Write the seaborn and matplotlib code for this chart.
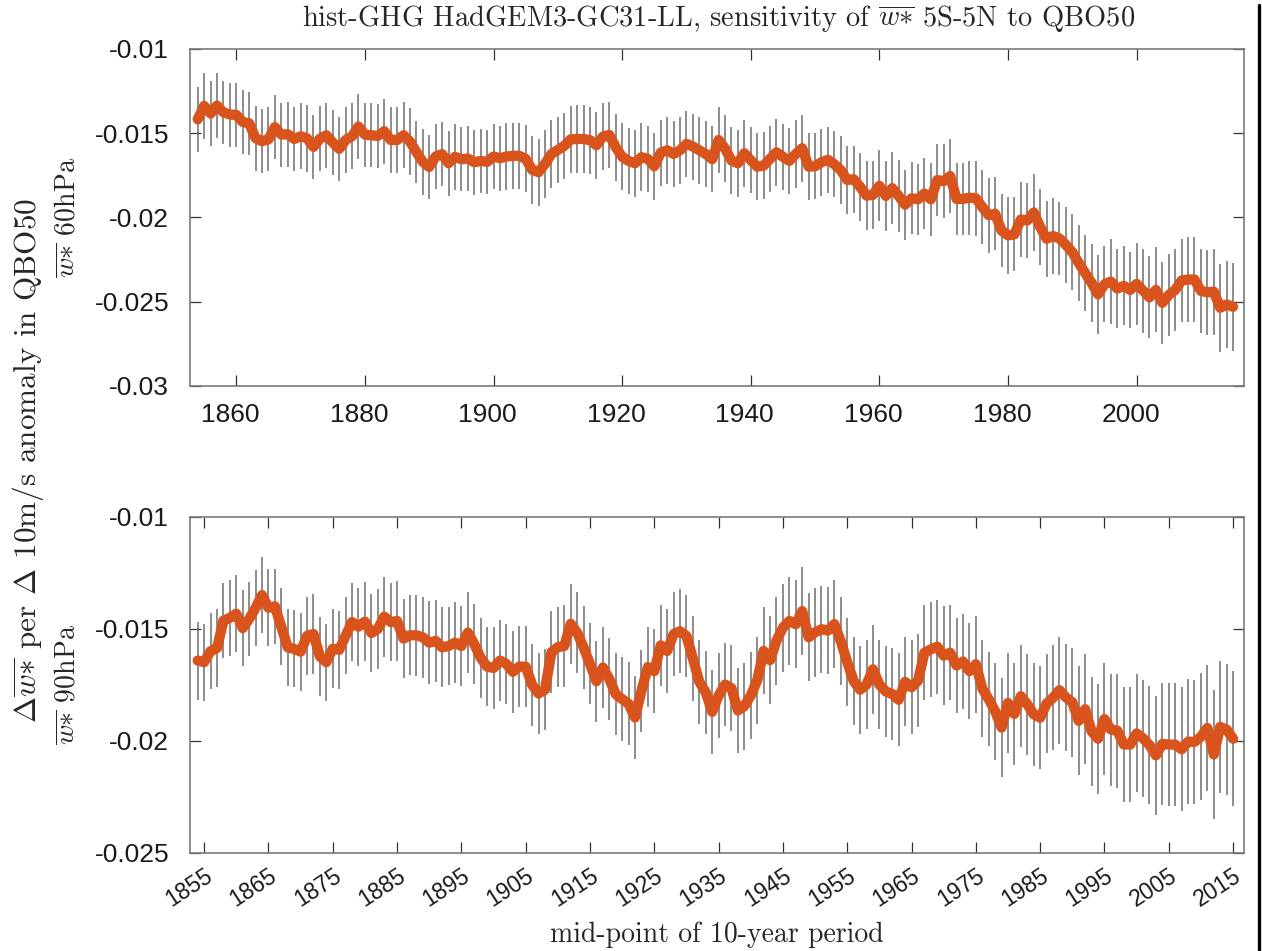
import numpy as np
import pandas as pd
import matplotlib
matplotlib.use("Agg")
import matplotlib.pyplot as plt
import seaborn as sns
from matplotlib.lines import Line2D
from matplotlib.transforms import ScaledTranslation

# ---------------- data ----------------
years = list(range(1854, 2016))

top_vals = [
    -0.01417, -0.01338, -0.01383, -0.01336, -0.01376, -0.01389,                      # 1854-1859
    -0.01391, -0.01433, -0.01441, -0.01530, -0.01547, -0.01536, -0.01464, -0.01508, -0.01506, -0.01534,  # 1860s
    -0.01518, -0.01530, -0.01581, -0.01532, -0.01512, -0.01555, -0.01593, -0.01540, -0.01518, -0.01460,  # 1870s
    -0.01508, -0.01512, -0.01516, -0.01488, -0.01540, -0.01540, -0.01512, -0.01549, -0.01611, -0.01670,  # 1880s
    -0.01700, -0.01638, -0.01624, -0.01678, -0.01640, -0.01654, -0.01650, -0.01672, -0.01664, -0.01670,  # 1890s
    -0.01638, -0.01648, -0.01638, -0.01634, -0.01634, -0.01652, -0.01717, -0.01731, -0.01682, -0.01623,  # 1900s
    -0.01599, -0.01575, -0.01536, -0.01534, -0.01534, -0.01541, -0.01571, -0.01520, -0.01510, -0.01583,  # 1910s
    -0.01640, -0.01664, -0.01678, -0.01642, -0.01652, -0.01696, -0.01615, -0.01601, -0.01623, -0.01601,  # 1920s
    -0.01563, -0.01579, -0.01601, -0.01623, -0.01654, -0.01540, -0.01591, -0.01662, -0.01678, -0.01619,  # 1930s
    -0.01660, -0.01698, -0.01692, -0.01652, -0.01613, -0.01640, -0.01664, -0.01623, -0.01589, -0.01698,  # 1940s
    -0.01696, -0.01672, -0.01658, -0.01684, -0.01719, -0.01777, -0.01773, -0.01818, -0.01870, -0.01866,  # 1950s
    -0.01812, -0.01872, -0.01826, -0.01872, -0.01924, -0.01886, -0.01892, -0.01858, -0.01892, -0.01778,  # 1960s
    -0.01784, -0.01754, -0.01890, -0.01890, -0.01882, -0.01886, -0.01938, -0.01986, -0.01978, -0.02078,  # 1970s
    -0.02106, -0.02100, -0.02012, -0.02018, -0.01970, -0.02056, -0.02126, -0.02110, -0.02124, -0.02162,  # 1980s
    -0.02206, -0.02270, -0.02330, -0.02388, -0.02456, -0.02396, -0.02380, -0.02422, -0.02406, -0.02430,  # 1990s
    -0.02394, -0.02434, -0.02474, -0.02430, -0.02506, -0.02460, -0.02430, -0.02374, -0.02368, -0.02368,  # 2000s
    -0.02436, -0.02444, -0.02440, -0.02536, -0.02516, -0.02530,                      # 2010-2015
]

top_err = [
    0.00192, 0.00198, 0.00191, 0.00193, 0.00188, 0.00190,
    0.00192, 0.00190, 0.00188, 0.00192, 0.00190, 0.00190, 0.00190, 0.00190, 0.00192, 0.00188,
    0.00196, 0.00198, 0.00191, 0.00195, 0.00192, 0.00191, 0.00188, 0.00194, 0.00196, 0.00193,
    0.00190, 0.00190, 0.00191, 0.00194, 0.00194, 0.00194, 0.00195, 0.00198, 0.00186, 0.00195,
    0.00191, 0.00193, 0.00192, 0.00194, 0.00195, 0.00191, 0.00194, 0.00193, 0.00192, 0.00190,
    0.00194, 0.00192, 0.00198, 0.00195, 0.00195, 0.00198, 0.00200, 0.00198, 0.00200, 0.00200,
    0.00198, 0.00198, 0.00200, 0.00200, 0.00200, 0.00198, 0.00198, 0.00198, 0.00198, 0.00198,
    0.00198, 0.00198, 0.00200, 0.00200, 0.00196, 0.00198, 0.00196, 0.00198, 0.00196, 0.00198,
    0.00196, 0.00196, 0.00198, 0.00197, 0.00196, 0.00196, 0.00198, 0.00200, 0.00198, 0.00198,
    0.00196, 0.00200, 0.00200, 0.00197, 0.00200, 0.00196, 0.00198, 0.00200, 0.00198, 0.00200,
    0.00196, 0.00198, 0.00198, 0.00197, 0.00200, 0.00200, 0.00200, 0.00203, 0.00206, 0.00204,
    0.00210, 0.00210, 0.00214, 0.00212, 0.00208, 0.00214, 0.00210, 0.00212, 0.00216, 0.00216,
    0.00220, 0.00220, 0.00216, 0.00214, 0.00220, 0.00222, 0.00218, 0.00222, 0.00216, 0.00216,
    0.00228, 0.00220, 0.00220, 0.00220, 0.00226, 0.00224, 0.00226, 0.00228, 0.00216, 0.00224,
    0.00224, 0.00226, 0.00226, 0.00232, 0.00234, 0.00224, 0.00250, 0.00234, 0.00234, 0.00228,
    0.00242, 0.00250, 0.00244, 0.00252, 0.00242, 0.00246, 0.00244, 0.00246, 0.00252, 0.00252,
    0.00252, 0.00252, 0.00256, 0.00260, 0.00258, 0.00262,
]

bot_vals = [
    -0.01641, -0.01648, -0.01599, -0.01585, -0.01463, -0.01450,
    -0.01432, -0.01496, -0.01455, -0.01406, -0.01349, -0.01405, -0.01399, -0.01490, -0.01582, -0.01589,
    -0.01601, -0.01531, -0.01522, -0.01623, -0.01648, -0.01588, -0.01593, -0.01530, -0.01469, -0.01490,
    -0.01467, -0.01518, -0.01500, -0.01445, -0.01469, -0.01464, -0.01543, -0.01528, -0.01528, -0.01537,
    -0.01561, -0.01553, -0.01582, -0.01576, -0.01561, -0.01576, -0.01516, -0.01567, -0.01629, -0.01668,
    -0.01674, -0.01641, -0.01656, -0.01691, -0.01668, -0.01668, -0.01749, -0.01788, -0.01771, -0.01604,
    -0.01581, -0.01576, -0.01477, -0.01516, -0.01582, -0.01656, -0.01733, -0.01672, -0.01723, -0.01791,
    -0.01813, -0.01834, -0.01895, -0.01776, -0.01670, -0.01688, -0.01573, -0.01598, -0.01523, -0.01510,
    -0.01531, -0.01632, -0.01736, -0.01783, -0.01870, -0.01797, -0.01748, -0.01764, -0.01864, -0.01844,
    -0.01797, -0.01730, -0.01598, -0.01639, -0.01552, -0.01494, -0.01464, -0.01479, -0.01420, -0.01537,
    -0.01515, -0.01501, -0.01507, -0.01478, -0.01555, -0.01648, -0.01732, -0.01771, -0.01748, -0.01680,
    -0.01748, -0.01779, -0.01790, -0.01816, -0.01736, -0.01760, -0.01731, -0.01606, -0.01591, -0.01579,
    -0.01619, -0.01606, -0.01663, -0.01645, -0.01688, -0.01657, -0.01766, -0.01813, -0.01867, -0.01940,
    -0.01830, -0.01879, -0.01800, -0.01836, -0.01881, -0.01896, -0.01833, -0.01807, -0.01773, -0.01805,
    -0.01827, -0.01910, -0.01858, -0.01957, -0.01990, -0.01902, -0.01949, -0.01954, -0.02015, -0.02016,
    -0.01966, -0.01988, -0.02018, -0.02064, -0.02013, -0.02016, -0.02016, -0.02037, -0.02003, -0.02004,
    -0.01981, -0.01942, -0.02060, -0.01937, -0.01949, -0.01990,
]

bot_err = [
    0.00174, 0.00172, 0.00171, 0.00173, 0.00168, 0.00169,
    0.00171, 0.00168, 0.00167, 0.00168, 0.00169, 0.00171, 0.00169, 0.00171, 0.00171, 0.00172,
    0.00174, 0.00174, 0.00177, 0.00176, 0.00172, 0.00176, 0.00174, 0.00171, 0.00176, 0.00175,
    0.00176, 0.00176, 0.00178, 0.00178, 0.00174, 0.00178, 0.00176, 0.00178, 0.00180, 0.00180,
    0.00186, 0.00182, 0.00178, 0.00176, 0.00180, 0.00180, 0.00181, 0.00180, 0.00180, 0.00176,
    0.00182, 0.00182, 0.00180, 0.00182, 0.00182, 0.00181, 0.00182, 0.00182, 0.00182, 0.00183,
    0.00180, 0.00182, 0.00180, 0.00182, 0.00186, 0.00181, 0.00180, 0.00182, 0.00183, 0.00183,
    0.00186, 0.00185, 0.00186, 0.00182, 0.00180, 0.00187, 0.00182, 0.00187, 0.00188, 0.00187,
    0.00183, 0.00191, 0.00186, 0.00186, 0.00189, 0.00188, 0.00187, 0.00191, 0.00191, 0.00194,
    0.00194, 0.00195, 0.00194, 0.00197, 0.00196, 0.00197, 0.00197, 0.00197, 0.00198, 0.00196,
    0.00199, 0.00195, 0.00194, 0.00197, 0.00197, 0.00197, 0.00197, 0.00197, 0.00199, 0.00200,
    0.00199, 0.00203, 0.00205, 0.00207, 0.00199, 0.00209, 0.00207, 0.00211, 0.00211, 0.00209,
    0.00221, 0.00211, 0.00211, 0.00214, 0.00216, 0.00216, 0.00216, 0.00209, 0.00216, 0.00221,
    0.00224, 0.00228, 0.00228, 0.00225, 0.00231, 0.00229, 0.00222, 0.00235, 0.00239, 0.00240,
    0.00243, 0.00243, 0.00245, 0.00244, 0.00246, 0.00248, 0.00250, 0.00255, 0.00257, 0.00255,
    0.00263, 0.00260, 0.00265, 0.00267, 0.00272, 0.00274, 0.00274, 0.00276, 0.00278, 0.00276,
    0.00284, 0.00280, 0.00287, 0.00295, 0.00291, 0.00301,
]

top_xticks = [1860, 1880, 1900, 1920, 1940, 1960, 1980, 2000]
bot_xticks = [1855, 1865, 1875, 1885, 1895, 1905, 1915, 1925, 1935,
              1945, 1955, 1965, 1975, 1985, 1995, 2005, 2015]
top_yticks = [-0.03, -0.025, -0.02, -0.015, -0.01]
top_ylabels = ["-0.03", "-0.025", "-0.02", "-0.015", "-0.01"]
bot_yticks = [-0.025, -0.02, -0.015, -0.01]
bot_ylabels = ["-0.025", "-0.02", "-0.015", "-0.01"]

title = r"hist-GHG HadGEM3-GC31-LL, sensitivity of $\overline{w{\ast}}$ 5S-5N to QBO50"
ylabel_main = r"$\Delta\overline{w{\ast}}$ per $\Delta$ 10m/s anomaly in QBO50"
ylabel_top = r"$\overline{w{\ast}}$ 60hPa"
ylabel_bot = r"$\overline{w{\ast}}$ 90hPa"
xlabel = "mid-point of 10-year period"

# ---------------- style ----------------
sns.set_theme(style="ticks")
plt.rcParams["font.family"] = ["Liberation Sans", "DejaVu Sans"]
plt.rcParams["mathtext.fontset"] = "cm"
plt.rcParams["axes.unicode_minus"] = False

ORANGE = "#D9531C"
BARC = "#6e6e6e"
SERIF = "cmr10"

W, H = 1262, 951
fig = plt.figure(figsize=(W / 100, H / 100), dpi=100)
ax1 = fig.add_axes([190 / W, 1 - 386 / H, 1054 / W, 337 / H])
ax2 = fig.add_axes([190 / W, 1 - 853 / H, 1054 / W, 336 / H])

df_top = pd.DataFrame({"year": years, "val": top_vals, "err": top_err})
df_bot = pd.DataFrame({"year": years, "val": bot_vals, "err": bot_err})

for ax, df in ((ax1, df_top), (ax2, df_bot)):
    ax.vlines(df["year"], df["val"] - df["err"], df["val"] + df["err"],
              color=BARC, linewidth=1.1, zorder=2)
    sns.lineplot(data=df, x="year", y="val", ax=ax, color=ORANGE,
                 linewidth=7.4, zorder=3, solid_capstyle="round",
                 solid_joinstyle="round")
    ax.set_xlim(1852.8, 2016.7)
    for sp in ax.spines.values():
        sp.set_visible(True)
        sp.set_color("#7a7a7a")
        sp.set_linewidth(1.2)
    ax.tick_params(direction="in", length=8, width=0.9, color="#333333",
                   top=True, right=True, labelcolor="#1a1a1a")
    ax.set_xlabel("")
    ax.grid(False)

ax1.set_ylim(-0.03, -0.01)
ax1.set_yticks(top_yticks)
ax1.set_yticklabels(top_ylabels, fontsize=19)
ax1.set_xticks(top_xticks)
ax1.set_xticklabels([str(t) for t in top_xticks], fontsize=19)
ax1.tick_params(axis="x", pad=12)
ax1.tick_params(axis="y", pad=15)
shift = ScaledTranslation(-6 / 100, 0, fig.dpi_scale_trans)
for lab in ax1.get_xticklabels():
    lab.set_transform(lab.get_transform() + shift)

ax2.set_ylim(-0.025, -0.01)
ax2.set_yticks(bot_yticks)
ax2.set_yticklabels(bot_ylabels, fontsize=19)
ax2.set_xticks(bot_xticks)
ax2.set_xticklabels([str(t) for t in bot_xticks], fontsize=16.5,
                    rotation=33, ha="right", va="top", rotation_mode="anchor")
ax2.tick_params(axis="x", pad=8)
ax2.tick_params(axis="y", pad=15)

ax1.set_ylabel(ylabel_top, fontname=SERIF, fontsize=20)
ax2.set_ylabel(ylabel_bot, fontname=SERIF, fontsize=20)
ax1.yaxis.set_label_coords(-0.104, 0.5)
ax2.yaxis.set_label_coords(-0.104, 0.5)

fig.text(719 / W, 1 - 19 / H, title, ha="center", va="center",
         fontname=SERIF, fontsize=20.5)
fig.text(28 / W, 1 - 460 / H, ylabel_main, ha="center", va="center",
         rotation=90, fontname=SERIF, fontsize=22.5)
fig.text(717 / W, 1 - 935 / H, xlabel, ha="center", va="center",
         fontname=SERIF, fontsize=20)

fig.add_artist(Line2D([1258.5 / W, 1258.5 / W], [0, 1 - 5 / H],
                      transform=fig.transFigure, color="black", linewidth=2.4))

fig.savefig("out.png", dpi=100)
